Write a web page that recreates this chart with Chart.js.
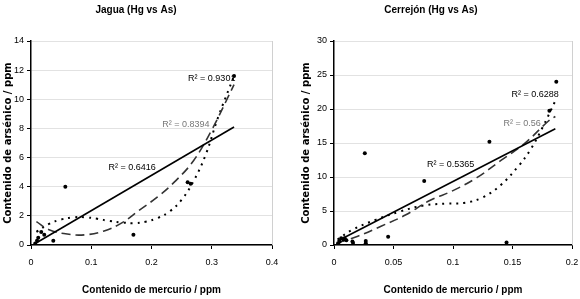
<!DOCTYPE html>
<html>
<head>
<meta charset="utf-8">
<script src="https://cdn.jsdelivr.net/npm/chart.js@4"></script>
<style>
  html, body { margin: 0; padding: 0; background: #fff; }
  .wrap { display: flex; width: 580px; height: 299px; }
  .box { position: relative; width: 290px; height: 299px; }
</style>
</head>
<body>
<div class="wrap">
  <div class="box"><canvas id="jagua"></canvas></div>
  <div class="box"><canvas id="cerrejon"></canvas></div>
</div>
<script>
// Jagua: measured points (Hg ppm vs As ppm)
const jaguaHg = [0.007, 0.010, 0.012, 0.017, 0.022, 0.037, 0.057, 0.170, 0.260, 0.265, 0.337];
const jaguaAs = [0.1, 0.3, 0.5, 0.9, 0.7, 0.3, 4.0, 0.7, 4.3, 4.2, 11.6];
// Jagua trend lines
const jaguaLinX = [0.007, 0.337];
const jaguaLinY = [0.1, 8.1];
const jaguaDashX = [0.009, 0.03, 0.06, 0.09, 0.12, 0.15, 0.18, 0.21, 0.24, 0.27, 0.30, 0.337];
const jaguaDashY = [1.6, 1.05, 0.75, 0.7, 0.95, 1.5, 2.4, 3.3, 4.4, 5.8, 7.9, 11.0];
const jaguaDotX = [0.009, 0.03, 0.05, 0.07, 0.09, 0.11, 0.13, 0.15, 0.17, 0.19, 0.21, 0.23, 0.25, 0.27, 0.29, 0.31, 0.337];
const jaguaDotY = [0.9, 1.45, 1.75, 1.9, 1.9, 1.8, 1.65, 1.55, 1.5, 1.6, 1.85, 2.3, 3.1, 4.4, 6.2, 8.7, 11.6];
const jaguaR2 = ['R² = 0.9301', 'R² = 0.8394', 'R² = 0.6416'];
const jaguaR2X = [0.300, 0.257, 0.168];
const jaguaR2Y = [11.4, 8.26, 5.3];

// Cerrejón: measured points
const cerrHg = [0.0034, 0.0048, 0.006, 0.008, 0.009, 0.0104, 0.0155, 0.016, 0.0259, 0.0267, 0.0267, 0.0455, 0.0758, 0.1306, 0.145, 0.181, 0.1868];
const cerrAs = [0.25, 0.5, 1.0, 0.8, 1.0, 0.7, 0.5, 0.3, 13.5, 0.6, 0.25, 1.2, 9.4, 15.2, 0.35, 19.75, 24.0];
const cerrLinX = [0.003, 0.186];
const cerrLinY = [0.6, 17.1];
const cerrDashX = [0.003, 0.02, 0.04, 0.06, 0.08, 0.10, 0.12, 0.14, 0.16, 0.18, 0.186];
const cerrDashY = [0.3, 1.3, 2.8, 4.4, 6.5, 8.0, 9.9, 12.4, 14.9, 18.2, 18.9];
const cerrDotX = [0.003, 0.015, 0.035, 0.055, 0.075, 0.095, 0.11, 0.125, 0.14, 0.155, 0.165, 0.175, 0.186];
const cerrDotY = [0.8, 2.2, 3.7, 4.9, 5.8, 6.1, 6.2, 7.0, 8.8, 11.6, 14.0, 17.2, 21.2];
const cerrR2 = ['R² = 0.6288', 'R² = 0.56', 'R² = 0.5365'];
const cerrR2X = [0.169, 0.158, 0.098];
const cerrR2Y = [22.1, 17.9, 11.9];

const NARROW = "'Liberation Sans Narrow', 'Liberation Sans', Arial, sans-serif";

function pts(xs, ys) {
  return xs.map((x, i) => ({ x: x, y: ys[i] }));
}

// light frame on the right side of the plot area + R² labels
const extras = {
  id: 'extras',
  afterDraw(chart, args, opts) {
    const { ctx, chartArea: a, scales } = chart;
    ctx.save();
    ctx.strokeStyle = '#d0d0d0';
    ctx.lineWidth = 1;
    ctx.beginPath();
    ctx.moveTo(a.right + 0.5, a.top);
    ctx.lineTo(a.right + 0.5, a.bottom);
    ctx.stroke();
    ctx.font = '9px ' + NARROW;
    ctx.textAlign = 'center';
    ctx.textBaseline = 'middle';
    opts.texts.forEach((t, i) => {
      ctx.fillStyle = opts.colors[i];
      ctx.fillText(t, scales.x.getPixelForValue(opts.xs[i]), scales.y.getPixelForValue(opts.ys[i]));
    });
    ctx.restore();
  }
};

function makeChart(id, cfg) {
  return new Chart(document.getElementById(id), {
    type: 'scatter',
    data: {
      datasets: [
        { data: cfg.points, showLine: false, pointRadius: 2, pointBackgroundColor: '#000', pointBorderWidth: 0 },
        { data: cfg.lin, showLine: true, borderColor: '#000', borderWidth: 1.6, pointRadius: 0 },
        { data: cfg.dash, showLine: true, borderColor: '#333', borderWidth: 1.6, borderDash: [9, 5], pointRadius: 0, tension: 0.4 },
        { data: cfg.dot, showLine: true, borderColor: '#000', borderWidth: 2, borderDash: [2, 5], pointRadius: 0, tension: 0.4 }
      ]
    },
    options: {
      responsive: true,
      maintainAspectRatio: false,
      animation: false,
      layout: { padding: { left: 0, right: cfg.padRight, top: 0, bottom: 0 } },
      plugins: {
        legend: { display: false },
        tooltip: { enabled: false },
        title: {
          display: true,
          text: cfg.title,
          color: '#000',
          font: { family: NARROW, size: 10, weight: 'bold' },
          padding: { top: 4, bottom: 25 }
        },
        extras: { texts: cfg.r2, xs: cfg.r2x, ys: cfg.r2y, colors: ['#000', '#777', '#000'] }
      },
      scales: {
        x: {
          type: 'linear',
          min: 0, max: cfg.xMax,
          afterFit: s => { s.height = 54; s.paddingRight = 0; },
          ticks: {
            stepSize: cfg.xStep, color: '#000', padding: 8, font: { family: NARROW, size: 9 },
            callback: v => String(+v.toFixed(3))
          },
          grid: { drawOnChartArea: false, tickLength: 4, color: '#000' },
          border: { color: '#000', width: 1.5 },
          title: {
            display: true,
            text: 'Contenido de mercurio / ppm',
            color: '#000',
            font: { family: NARROW, size: 10, weight: 'bold' },
            padding: { top: 0, bottom: 3 }
          }
        },
        y: {
          min: 0, max: cfg.yMax,
          afterFit: s => { s.width = cfg.yWidth; },
          ticks: { stepSize: cfg.yStep, color: '#000', padding: 3, font: { family: NARROW, size: 9 } },
          grid: { color: '#e2e2e2', tickLength: 4, tickColor: '#000' },
          border: { color: '#000', width: 1.5 },
          title: {
            display: true,
            text: 'Contenido de arsénico / ppm',
            color: '#000',
            font: { family: "'DejaVu Sans', sans-serif", size: 10, weight: 'bold' },
            padding: { top: cfg.yTitlePad, bottom: 0 }
          }
        }
      }
    },
    plugins: [extras]
  });
}

makeChart('jagua', {
  title: 'Jagua (Hg vs As)',
  points: pts(jaguaHg, jaguaAs),
  lin: pts(jaguaLinX, jaguaLinY),
  dash: pts(jaguaDashX, jaguaDashY),
  dot: pts(jaguaDotX, jaguaDotY),
  r2: jaguaR2, r2x: jaguaR2X, r2y: jaguaR2Y,
  xMax: 0.4, xStep: 0.1, yMax: 14, yStep: 2,
  yWidth: 31, yTitlePad: 2, padRight: 18
});

makeChart('cerrejon', {
  title: 'Cerrejón (Hg vs As)',
  points: pts(cerrHg, cerrAs),
  lin: pts(cerrLinX, cerrLinY),
  dash: pts(cerrDashX, cerrDashY),
  dot: pts(cerrDotX, cerrDotY),
  r2: cerrR2, r2x: cerrR2X, r2y: cerrR2Y,
  xMax: 0.2, xStep: 0.05, yMax: 30, yStep: 5,
  yWidth: 44, yTitlePad: 10, padRight: 8
});
</script>
</body>
</html>
